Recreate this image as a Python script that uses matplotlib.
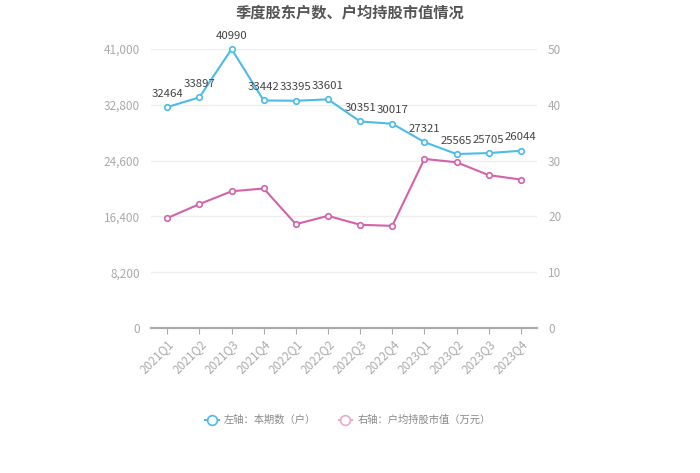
import matplotlib
matplotlib.use("Agg")
import matplotlib.pyplot as plt
from matplotlib.lines import Line2D

plt.rcParams['font.family'] = ['Noto Sans CJK SC', 'DejaVu Sans']

quarters = ['2021Q1', '2021Q2', '2021Q3', '2021Q4', '2022Q1', '2022Q2',
            '2022Q3', '2022Q4', '2023Q1', '2023Q2', '2023Q3', '2023Q4']
holders = [32464, 33897, 40990, 33442, 33395, 33601,
           30351, 30017, 27321, 25565, 25705, 26044]
avg_value = [19.7, 22.2, 24.5, 25.0, 18.6, 20.1,
             18.5, 18.3, 30.3, 29.7, 27.4, 26.6]
left_ticks = [0, 8200, 16400, 24600, 32800, 41000]
right_ticks = [0, 10, 20, 30, 40, 50]

blue = '#4cbbea'
pink = '#d462a8'

fig = plt.figure(figsize=(7, 4.73), dpi=100)
ax = fig.add_axes([0.216, 0.3066, 0.551, 0.5898])
ax2 = ax.twinx()

x = list(range(len(quarters)))
ax.plot(x, holders, color=blue, lw=1.5, marker='o', ms=4,
        mfc='white', mec=blue, mew=1.2, zorder=3, clip_on=False)
ax2.plot(x, avg_value, color=pink, lw=1.5, marker='o', ms=4,
         mfc='white', mec=pink, mew=1.2, zorder=3, clip_on=False)

for i, v in enumerate(holders):
    ax.annotate(str(v), (i, v), xytext=(0, 6), textcoords='offset points',
                ha='center', va='bottom', fontsize=8.2, color='#444444')

ax.set_xlim(-0.5, len(quarters) - 0.5)
ax.set_ylim(0, 41000)
ax2.set_ylim(0, 50)
ax.set_yticks(left_ticks)
ax.set_yticklabels([f'{t:,}' for t in left_ticks])
ax2.set_yticks(right_ticks)
ax.set_xticks(x)
ax.set_xticklabels(quarters, rotation=45, ha='right', rotation_mode='anchor')

ax.grid(axis='y', color='#eeeeee', lw=1)
ax.set_axisbelow(True)
for a in (ax, ax2):
    for s in ('top', 'left', 'right'):
        a.spines[s].set_visible(False)
    a.spines['bottom'].set_color('#aaaaaa')
    a.spines['bottom'].set_linewidth(1.5)
    a.tick_params(axis='y', length=0, colors='#aaaaaa', labelsize=8.5, pad=8)
ax.tick_params(axis='x', length=4, color='#aaaaaa', colors='#aaaaaa',
               labelsize=8.5, direction='out', pad=3)

fig.suptitle('季度股东户数、户均持股市值情况', x=0.5, y=0.99,
             fontsize=11, fontweight='bold', color='#555555')

handles = [
    Line2D([], [], color=blue, lw=1.5, marker='o', ms=7, mfc='white', mec=blue, mew=1.2),
    Line2D([], [], color='#e8a8d0', lw=1.5, marker='o', ms=7, mfc='white', mec='#e8a8d0', mew=1.2),
]
fig.legend(handles, ['左轴：本期数（户）', '右轴：户均持股市值（万元）'],
           loc='center', bbox_to_anchor=(0.497, 0.112), ncol=2, frameon=False,
           fontsize=7.4, labelcolor='#888888', handlelength=1.3, columnspacing=2.2,
           handletextpad=0.5)

fig.savefig('out.png', dpi=100)
